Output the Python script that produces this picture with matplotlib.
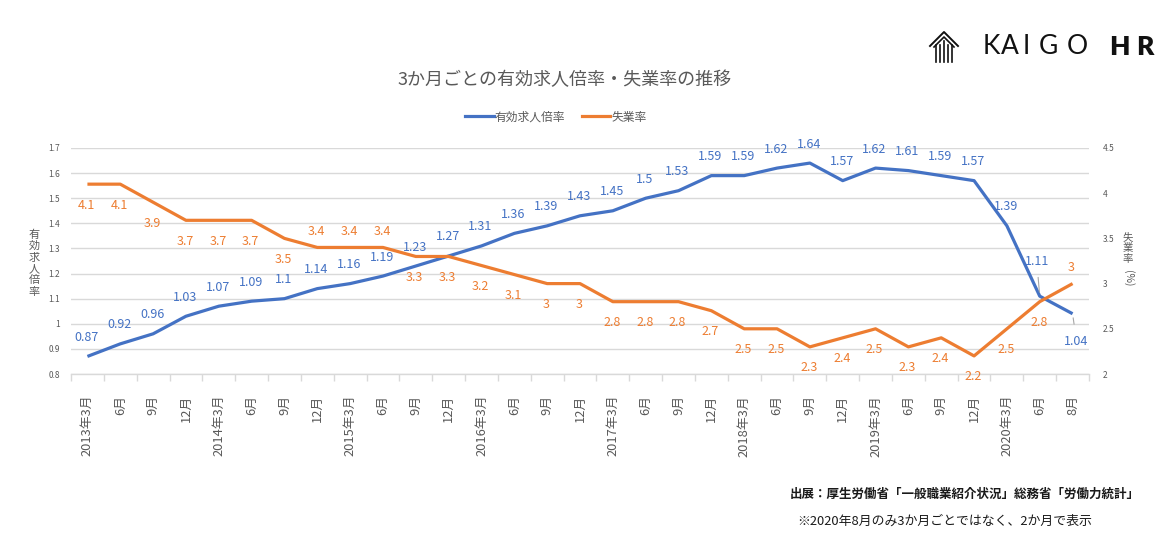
import matplotlib
matplotlib.use("Agg")
import matplotlib.pyplot as plt
from matplotlib.lines import Line2D

plt.rcParams['font.family'] = ['Noto Sans CJK JP', 'DejaVu Sans']

# ---------------- data ----------------
categories = [
    "2013年3月", "6月", "9月", "12月",
    "2014年3月", "6月", "9月", "12月",
    "2015年3月", "6月", "9月", "12月",
    "2016年3月", "6月", "9月", "12月",
    "2017年3月", "6月", "9月", "12月",
    "2018年3月", "6月", "9月", "12月",
    "2019年3月", "6月", "9月", "12月",
    "2020年3月", "6月", "8月",
]
job_ratio = [0.87, 0.92, 0.96, 1.03, 1.07, 1.09, 1.1, 1.14, 1.16, 1.19, 1.23, 1.27,
             1.31, 1.36, 1.39, 1.43, 1.45, 1.5, 1.53, 1.59, 1.59, 1.62, 1.64, 1.57,
             1.62, 1.61, 1.59, 1.57, 1.39, 1.11, 1.04]
unemployment = [4.1, 4.1, 3.9, 3.7, 3.7, 3.7, 3.5, 3.4, 3.4, 3.4, 3.3, 3.3,
                3.2, 3.1, 3, 3, 2.8, 2.8, 2.8, 2.7, 2.5, 2.5, 2.3, 2.4,
                2.5, 2.3, 2.4, 2.2, 2.5, 2.8, 3]
left_ticks = [0.8, 0.9, 1, 1.1, 1.2, 1.3, 1.4, 1.5, 1.6, 1.7]
left_tick_labels = ["0.8", "0.9", "1", "1.1", "1.2", "1.3", "1.4", "1.5", "1.6", "1.7"]
right_ticks = [2, 2.5, 3, 3.5, 4, 4.5]
right_tick_labels = ["2", "2.5", "3", "3.5", "4", "4.5"]
series_names = ["有効求人倍率", "失業率"]

BLUE = "#4472C4"
ORANGE = "#ED7D31"
GREY = "#595959"
GRID = "#D9D9D9"

W, H = 1173, 555
fig = plt.figure(figsize=(W / 100, H / 100), dpi=100)

def fx(x):
    return x / W

def fy(y):
    return 1 - y / H

ax_l, ax_r, ax_t, ax_b = 71, 1089, 148, 374
ax = fig.add_axes([fx(ax_l), fy(ax_b), (ax_r - ax_l) / W, (ax_b - ax_t) / H])
ax2 = ax.twinx()

x = list(range(len(categories)))

ax.set_xlim(-0.5, len(categories) - 0.5)
ax.set_ylim(0.8, 1.7)
ax2.set_ylim(2, 4.5)

ax.set_yticks(left_ticks)
ax.set_yticklabels(left_tick_labels)
ax2.set_yticks(right_ticks)
ax2.set_yticklabels(right_tick_labels)
ax.yaxis.grid(True, color=GRID, linewidth=1.0)
ax.set_axisbelow(True)

for a in (ax, ax2):
    for s in ("top", "left", "right"):
        a.spines[s].set_visible(False)
    a.spines["bottom"].set_color(GRID)
    a.spines["bottom"].set_linewidth(1.0)
ax2.spines["bottom"].set_visible(False)

ax.tick_params(axis="y", length=0, labelsize=6, labelcolor=GREY, pad=8)
ax2.tick_params(axis="y", length=0, labelsize=6, labelcolor=GREY, pad=10)

ax.set_xticks(x)
ax.set_xticklabels(categories, rotation=90, fontsize=9.3, color=GREY, va="top", ha="center")
ax.set_xticks([i - 0.5 for i in range(len(categories) + 1)], minor=True)
ax.tick_params(axis="x", which="major", length=0, pad=15)
ax.tick_params(axis="x", which="minor", length=5, color=GRID, width=1.0)

ax.plot(x, job_ratio, color=BLUE, linewidth=2.3, solid_capstyle="butt", zorder=3)
ax2.plot(x, unemployment, color=ORANGE, linewidth=2.3, solid_capstyle="butt", zorder=3)

PX = 72 / 100  # points per pixel

# blue labels
for i, v in enumerate(job_ratio):
    txt = f"{v:g}"
    if i == len(job_ratio) - 2:
        ax.annotate(txt, (i, v), xytext=(-3 * PX, 35 * PX), textcoords="offset points",
                    ha="center", va="center", fontsize=9, color=BLUE,
                    arrowprops=dict(arrowstyle="-", color="#A6A6A6", lw=0.8, shrinkA=5, shrinkB=3))
    elif i == len(job_ratio) - 1:
        ax.annotate(txt, (i, v), xytext=(4 * PX, -28 * PX), textcoords="offset points",
                    ha="center", va="center", fontsize=9, color=BLUE,
                    arrowprops=dict(arrowstyle="-", color="#A6A6A6", lw=0.8, shrinkA=6, shrinkB=3))
    else:
        ax.annotate(txt, (i, v), xytext=(-1 * PX, 19 * PX), textcoords="offset points",
                    ha="center", va="center", fontsize=9, color=BLUE)

# orange labels
above_idx = {7, 8, 9, len(unemployment) - 1}
for i, v in enumerate(unemployment):
    txt = f"{v:g}"
    dy = 16 if i in above_idx else -21
    ax2.annotate(txt, (i, v), xytext=(-1 * PX, dy * PX), textcoords="offset points",
                 ha="center", va="center", fontsize=9, color=ORANGE)

# title
fig.text(fx(565), fy(80), "3か月ごとの有効求人倍率・失業率の推移", ha="center", va="center",
         fontsize=13, color=GREY)

# legend
leg_handles = [Line2D([0], [0], color=BLUE, lw=2.3), Line2D([0], [0], color=ORANGE, lw=2.3)]
fig.legend(leg_handles, series_names, loc="center", bbox_to_anchor=(fx(556), fy(117)),
           ncol=2, frameon=False, fontsize=8.5, handlelength=2.4, handletextpad=0.1,
           columnspacing=1.4, labelcolor=GREY)

# axis titles (vertical, character by character)
left_title = series_names[0]
for k, ch in enumerate(left_title):
    fig.text(fx(34), fy(235 + k * 11.3), ch, ha="center", va="center", fontsize=8, color=GREY)
right_title = series_names[1]
for k, ch in enumerate(right_title):
    fig.text(fx(1128), fy(237 + k * 10.8), ch, ha="center", va="center", fontsize=7.5, color=GREY)
fig.text(fx(1128), fy(278), "(%)", ha="center", va="center", rotation=-90,
         fontsize=7.5, color=GREY)

# footer
fig.text(fx(790), fy(494), "出展：厚生労働省「一般職業紹介状況」総務省「労働力統計」", ha="left",
         va="center", fontsize=9.0, color="#1a1a1a", fontweight="bold")
fig.text(fx(797), fy(521), "※2020年8月のみ3か月ごとではなく、2か月で表示", ha="left",
         va="center", fontsize=9.3, color="#1a1a1a")

# logo
logo_letters = [("K", 991, "normal"), ("A", 1010, "normal"), ("I", 1026, "normal"),
                ("G", 1048, "normal"), ("O", 1077, "normal"), ("H", 1119, "heavy"),
                ("R", 1145, "heavy")]
for ch, lx, w in logo_letters:
    fig.text(fx(lx), fy(47), ch, ha="center", va="center", fontsize=19,
             color="#111111", fontweight=w, family=["Lato", "DejaVu Sans"])

def fline(xs, ys, lw=1.4):
    fig.add_artist(Line2D([fx(v) for v in xs], [fy(v) for v in ys],
                          color="#111111", lw=lw, transform=fig.transFigure))

fline([930, 944, 958], [46, 32, 46])
fline([934, 944, 954], [47, 37, 47], lw=1.2)
for px_ in (936, 940, 944, 948, 952):
    top = 41 if px_ == 944 else 45
    fline([px_, px_], [top, 62], lw=1.2)

fig.savefig("out.png", dpi=100)
